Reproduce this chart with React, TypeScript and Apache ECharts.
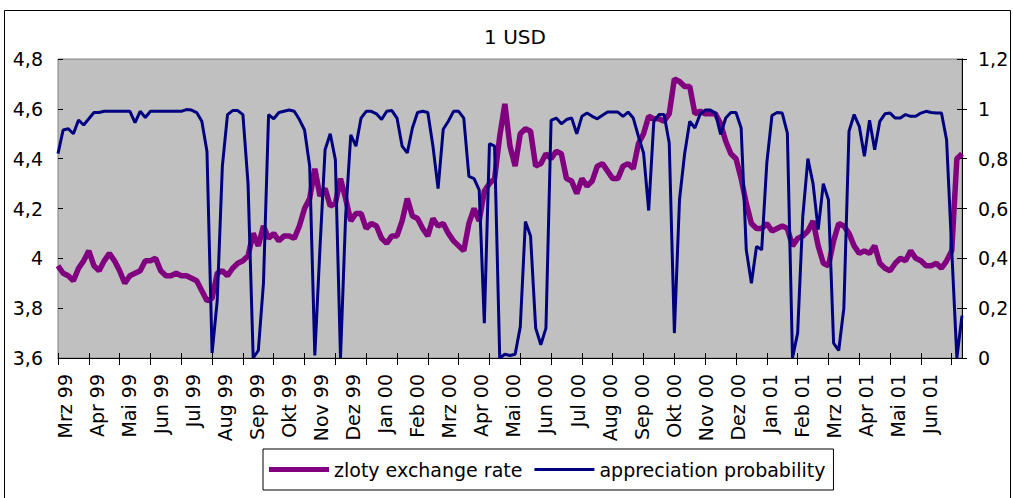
import React, { useEffect, useRef } from 'react';
import * as echarts from 'echarts';

// Month tick labels (German abbreviations as in the source)
const monthLabels = [
  'Mrz 99', 'Apr 99', 'Mai 99', 'Jun 99', 'Jul 99', 'Aug 99', 'Sep 99', 'Okt 99', 'Nov 99', 'Dez 99',
  'Jan 00', 'Feb 00', 'Mrz 00', 'Apr 00', 'Mai 00', 'Jun 00', 'Jul 00', 'Aug 00', 'Sep 00', 'Okt 00',
  'Nov 00', 'Dez 00', 'Jan 01', 'Feb 01', 'Mrz 01', 'Apr 01', 'Mai 01', 'Jun 01',
];

// zloty per 1 USD (sampled observations)
const zlotyRate = [
  3.97, 3.94, 3.93, 3.91, 3.96, 3.99, 4.03, 3.97, 3.95, 3.99,
  4.02, 3.99, 3.95, 3.90, 3.93, 3.94, 3.95, 3.99, 3.99, 4.00,
  3.95, 3.93, 3.93, 3.94, 3.93, 3.93, 3.92, 3.91, 3.87, 3.83,
  3.84, 3.94, 3.95, 3.93, 3.96, 3.98, 3.99, 4.01, 4.10, 4.05,
  4.13, 4.08, 4.10, 4.07, 4.09, 4.09, 4.08, 4.13, 4.20, 4.24,
  4.36, 4.25, 4.28, 4.21, 4.22, 4.32, 4.24, 4.15, 4.18, 4.18,
  4.12, 4.14, 4.13, 4.08, 4.06, 4.09, 4.09, 4.15, 4.24, 4.17,
  4.16, 4.12, 4.09, 4.16, 4.13, 4.14, 4.10, 4.07, 4.05, 4.03,
  4.14, 4.20, 4.15, 4.27, 4.30, 4.32, 4.49, 4.62, 4.45, 4.37,
  4.50, 4.52, 4.51, 4.37, 4.38, 4.42, 4.40, 4.43, 4.42, 4.32,
  4.31, 4.26, 4.32, 4.29, 4.31, 4.37, 4.38, 4.35, 4.32, 4.32,
  4.37, 4.38, 4.36, 4.46, 4.50, 4.57, 4.56, 4.56, 4.55, 4.58,
  4.72, 4.71, 4.69, 4.69, 4.58, 4.59, 4.58, 4.58, 4.58, 4.54,
  4.47, 4.42, 4.40, 4.32, 4.22, 4.14, 4.12, 4.12, 4.14, 4.11,
  4.12, 4.13, 4.12, 4.05, 4.08, 4.09, 4.11, 4.15, 4.05, 3.98,
  3.97, 4.07, 4.14, 4.13, 4.10, 4.05, 4.02, 4.03, 4.02, 4.05,
  3.98, 3.96, 3.95, 3.98, 4.00, 3.99, 4.03, 4.00, 3.99, 3.97,
  3.97, 3.98, 3.96, 3.99, 4.03, 4.40, 4.42,
];

// appreciation probability (same observations)
const appreciationProb = [
  0.82, 0.915, 0.92, 0.90, 0.955, 0.935, 0.96, 0.985, 0.985, 0.99,
  0.99, 0.99, 0.99, 0.99, 0.99, 0.945, 0.99, 0.965, 0.99, 0.99,
  0.99, 0.99, 0.99, 0.99, 0.99, 0.997, 0.995, 0.985, 0.95, 0.83,
  0.02, 0.23, 0.77, 0.977, 0.993, 0.993, 0.977, 0.70, 0.0, 0.03,
  0.30, 0.977, 0.96, 0.985, 0.99, 0.995, 0.99, 0.957, 0.915, 0.77,
  0.01, 0.44, 0.836, 0.90, 0.796, 0.0, 0.57, 0.896, 0.85, 0.963,
  0.99, 0.99, 0.98, 0.957, 0.99, 0.993, 0.963, 0.85, 0.823, 0.923,
  0.985, 0.99, 0.985, 0.85, 0.68, 0.918, 0.95, 0.99, 0.99, 0.963,
  0.729, 0.72, 0.675, 0.14, 0.86, 0.85, 0.0, 0.015, 0.01, 0.015,
  0.125, 0.548, 0.49, 0.12, 0.053, 0.12, 0.954, 0.963, 0.94, 0.957,
  0.963, 0.90, 0.97, 0.983, 0.97, 0.96, 0.974, 0.987, 0.987, 0.987,
  0.97, 0.987, 0.963, 0.89, 0.823, 0.592, 0.95, 0.977, 0.977, 0.863,
  0.10, 0.635, 0.82, 0.95, 0.923, 0.977, 0.995, 0.995, 0.983, 0.897,
  0.963, 0.985, 0.985, 0.923, 0.434, 0.30, 0.448, 0.434, 0.783, 0.973,
  0.985, 0.983, 0.903, 0.0, 0.10, 0.567, 0.80, 0.70, 0.515, 0.70,
  0.635, 0.06, 0.03, 0.20, 0.91, 0.977, 0.93, 0.81, 0.954, 0.836,
  0.95, 0.98, 0.983, 0.963, 0.963, 0.977, 0.97, 0.97, 0.983, 0.99,
  0.985, 0.983, 0.983, 0.876, 0.434, 0.0, 0.17,
];

const rateAxis = { min: 3.6, max: 4.8, step: 0.2 };
const probAxis = { min: 0, max: 1.2, step: 0.2 };

const FONT = '"DejaVu Sans", Verdana, sans-serif';
const FS = 19;

const fmtComma = (v: number) => String(Number(v.toFixed(2))).replace('.', ',');

export default function App() {
  const ref = useRef<HTMLDivElement>(null);

  useEffect(() => {
    if (!ref.current) return;
    const chart = echarts.init(ref.current, undefined, { renderer: 'svg' });
    const obs = zlotyRate.map((_, i) => String(i));
    const gridL = 58, gridT = 59, gridW = 904, gridH = 299;
    const labelSpacing = 32.04;
    const labelSpan = gridW / labelSpacing;

    const option: any = {
      animation: false,
      backgroundColor: '#ffffff',
      textStyle: { fontFamily: FONT },
      title: {
        text: '1 USD',
        left: gridL + gridW / 2,
        textAlign: 'center',
        top: 22,
        textStyle: { fontFamily: FONT, fontSize: 20, fontWeight: 'normal', color: '#000' },
      },
      graphic: [
        {
          type: 'rect',
          shape: { x: 4.5, y: 10.5, width: 1006, height: 495 },
          style: { fill: 'none', stroke: '#000', lineWidth: 1 },
          silent: true,
          z: 100,
        },
      ],
      legend: {
        left: 263,
        top: 449,
        orient: 'horizontal',
        backgroundColor: '#fff',
        borderColor: '#000',
        borderWidth: 1,
        padding: [11, 8, 11, 6],
        itemGap: 12,
        itemWidth: 60,
        itemHeight: 20,
        symbolKeepAspect: true,
        textStyle: { fontFamily: FONT, fontSize: FS, color: '#000' },
        data: [
          { name: 'zloty exchange rate', icon: 'path://M0 0H60V5H0Z' },
          { name: 'appreciation probability', icon: 'path://M0 0H60V3H0Z' },
        ],
      },
      grid: {
        left: gridL,
        top: gridT,
        width: gridW,
        height: gridH,
        show: true,
        backgroundColor: '#c0c0c0',
        borderColor: '#808080',
        borderWidth: 1,
      },
      xAxis: [
        {
          type: 'category',
          data: obs,
          boundaryGap: false,
          position: 'bottom',
          axisLine: { show: true, lineStyle: { color: '#000', width: 1 } },
          axisTick: { show: true, interval: 5, length: 7, lineStyle: { color: '#000' } },
          axisLabel: { show: false },
          splitLine: { show: false },
        },
        {
          type: 'value',
          inverse: true,
          min: 0,
          max: labelSpan,
          interval: 1,
          position: 'bottom',
          axisLine: { show: false },
          axisTick: { show: false },
          splitLine: { show: false },
          axisLabel: {
            show: true,
            rotate: 90,
            margin: 16,
            fontFamily: FONT,
            fontSize: FS,
            color: '#000',
            showMinLabel: true,
            showMaxLabel: true,
            formatter: (v: number) => {
              const k = Math.round(v);
              if (Math.abs(v - k) > 1e-6) return '';
              return monthLabels[monthLabels.length - k] ?? '';
            },
          },
        },
        {
          type: 'category',
          data: obs,
          boundaryGap: false,
          position: 'bottom',
          axisLine: { show: false },
          axisTick: { show: true, inside: true, interval: 5, length: 5, lineStyle: { color: '#000' } },
          axisLabel: { show: false },
          splitLine: { show: false },
        },
      ],
      yAxis: [
        {
          type: 'value',
          position: 'left',
          min: rateAxis.min,
          max: rateAxis.max,
          interval: rateAxis.step,
          axisLine: { show: true, lineStyle: { color: '#000' } },
          axisTick: { show: true, length: 5, lineStyle: { color: '#000' } },
          axisLabel: { margin: 15, fontFamily: FONT, fontSize: FS, color: '#000', formatter: fmtComma },
          splitLine: { show: false },
        },
        {
          type: 'value',
          position: 'right',
          min: probAxis.min,
          max: probAxis.max,
          interval: probAxis.step,
          axisLine: { show: true, lineStyle: { color: '#000' } },
          axisTick: { show: true, length: 5, lineStyle: { color: '#000' } },
          axisLabel: { margin: 16, fontFamily: FONT, fontSize: FS, color: '#000', formatter: fmtComma },
          splitLine: { show: false },
        },
        {
          type: 'value',
          position: 'left',
          min: rateAxis.min,
          max: rateAxis.max,
          interval: rateAxis.step,
          axisLine: { show: false },
          axisTick: { show: true, inside: true, length: 5, lineStyle: { color: '#000' } },
          axisLabel: { show: false },
          splitLine: { show: false },
        },
        {
          type: 'value',
          position: 'right',
          min: probAxis.min,
          max: probAxis.max,
          interval: probAxis.step,
          axisLine: { show: false },
          axisTick: { show: true, inside: true, length: 5, lineStyle: { color: '#000' } },
          axisLabel: { show: false },
          splitLine: { show: false },
        },
      ],
      series: [
        {
          name: 'zloty exchange rate',
          type: 'line',
          xAxisIndex: 0,
          yAxisIndex: 0,
          data: zlotyRate,
          symbol: 'none',
          lineStyle: { color: '#800080', width: 5.5 },
          itemStyle: { color: '#800080' },
          z: 2,
        },
        {
          name: 'appreciation probability',
          type: 'line',
          xAxisIndex: 0,
          yAxisIndex: 1,
          data: appreciationProb,
          symbol: 'none',
          lineStyle: { color: '#000080', width: 3 },
          itemStyle: { color: '#000080' },
          z: 3,
        },
      ],
    };

    chart.setOption(option);
    return () => chart.dispose();
  }, []);

  return (
    <div
      ref={ref}
      style={{ position: 'absolute', left: 0, top: 0, width: 1013, height: 498 }}
    />
  );
}
